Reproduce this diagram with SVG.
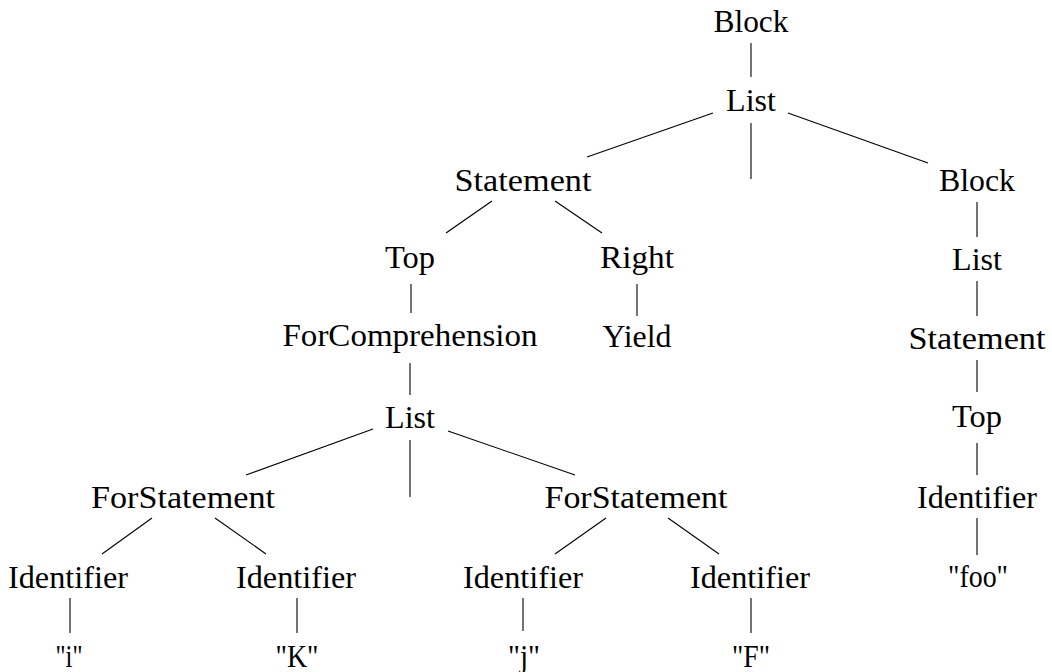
<svg xmlns="http://www.w3.org/2000/svg" width="1052" height="672" viewBox="0 0 1052 672">
  <style>
    .lbl { font-family: "Liberation Serif", "Times New Roman", Tinos, "DejaVu Serif", "Noto Serif", FreeSerif, Times, serif; font-size: 31px; fill: #000; text-anchor: middle; }
    .edge { stroke: #000; stroke-width: 1.1; fill: none; stroke-linecap: butt; }
  </style>
  <rect width="1052" height="672" fill="#fff"/>

  <!-- tree edges -->
  <g id="connectors" class="edge">
    <line x1="751" y1="43" x2="751" y2="77"/>
    <line x1="713" y1="113" x2="587" y2="157"/>
    <line x1="751" y1="123" x2="751" y2="179"/>
    <line x1="788" y1="113" x2="928" y2="163"/>
    <line x1="492" y1="201" x2="446" y2="233"/>
    <line x1="555" y1="201" x2="602" y2="233"/>
    <line x1="411" y1="284" x2="411" y2="313"/>
    <line x1="637" y1="284" x2="637" y2="316"/>
    <line x1="410" y1="363" x2="410" y2="395"/>
    <line x1="373" y1="429" x2="246" y2="475"/>
    <line x1="410" y1="440" x2="410" y2="497"/>
    <line x1="448" y1="431" x2="575" y2="475"/>
    <line x1="152" y1="518" x2="102" y2="554"/>
    <line x1="215" y1="518" x2="266" y2="554"/>
    <line x1="606" y1="518" x2="555" y2="554"/>
    <line x1="668" y1="518" x2="719" y2="554"/>
    <line x1="70" y1="598" x2="70" y2="633"/>
    <line x1="297" y1="598" x2="297" y2="633"/>
    <line x1="523" y1="598" x2="523" y2="631"/>
    <line x1="751" y1="598" x2="751" y2="633"/>
    <line x1="977" y1="202" x2="977" y2="237"/>
    <line x1="977" y1="281" x2="977" y2="316"/>
    <line x1="977" y1="360" x2="977" y2="392"/>
    <line x1="977" y1="443" x2="977" y2="475"/>
    <line x1="977" y1="518" x2="977" y2="555"/>
  </g>

  <!-- nodes -->
  <g font-family="Liberation Serif, DejaVu Serif, serif">
  <g id="n-block-root"><text class="lbl" x="751" y="32" textLength="75" lengthAdjust="spacingAndGlyphs">Block</text></g>
  <g id="n-list-root"><text class="lbl" x="751" y="111" textLength="50" lengthAdjust="spacingAndGlyphs">List</text></g>
  <g id="n-statement"><text class="lbl" x="523" y="191" textLength="137" lengthAdjust="spacingAndGlyphs">Statement</text></g>
  <g id="n-block-inner"><text class="lbl" x="977" y="191" textLength="76" lengthAdjust="spacingAndGlyphs">Block</text></g>
  <g id="n-top"><text class="lbl" x="410" y="268" textLength="50" lengthAdjust="spacingAndGlyphs">Top</text></g>
  <g id="n-right"><text class="lbl" x="637" y="268" textLength="74" lengthAdjust="spacingAndGlyphs">Right</text></g>
  <g id="n-list-inner"><text class="lbl" x="977" y="270" textLength="50" lengthAdjust="spacingAndGlyphs">List</text></g>
  <g id="n-forcomp"><text class="lbl" x="410" y="346" textLength="255" lengthAdjust="spacingAndGlyphs">ForComprehension</text></g>
  <g id="n-yield"><text class="lbl" x="637" y="347" textLength="69" lengthAdjust="spacingAndGlyphs">Yield</text></g>
  <g id="n-statement-inner"><text class="lbl" x="977" y="349" textLength="137" lengthAdjust="spacingAndGlyphs">Statement</text></g>
  <g id="n-list-for"><text class="lbl" x="410" y="428" textLength="50" lengthAdjust="spacingAndGlyphs">List</text></g>
  <g id="n-top-inner"><text class="lbl" x="977" y="427" textLength="50" lengthAdjust="spacingAndGlyphs">Top</text></g>
  <g id="n-forstmt-1"><text class="lbl" x="183" y="508" textLength="184" lengthAdjust="spacingAndGlyphs">ForStatement</text></g>
  <g id="n-forstmt-2"><text class="lbl" x="636" y="508" textLength="183" lengthAdjust="spacingAndGlyphs">ForStatement</text></g>
  <g id="n-ident-inner"><text class="lbl" x="977" y="508" textLength="120" lengthAdjust="spacingAndGlyphs">Identifier</text></g>
  <g id="n-ident-1"><text class="lbl" x="68" y="588" textLength="120" lengthAdjust="spacingAndGlyphs">Identifier</text></g>
  <g id="n-ident-2"><text class="lbl" x="296" y="588" textLength="120" lengthAdjust="spacingAndGlyphs">Identifier</text></g>
  <g id="n-ident-3"><text class="lbl" x="523" y="588" textLength="120" lengthAdjust="spacingAndGlyphs">Identifier</text></g>
  <g id="n-ident-4"><text class="lbl" x="750" y="588" textLength="120" lengthAdjust="spacingAndGlyphs">Identifier</text></g>
  <g id="n-foo"><text class="lbl" x="978" y="587" textLength="60" lengthAdjust="spacingAndGlyphs">"foo"</text></g>
  <g id="n-i"><text class="lbl" x="69" y="667" textLength="27" lengthAdjust="spacingAndGlyphs">"i"</text></g>
  <g id="n-k"><text class="lbl" x="297" y="667" textLength="43" lengthAdjust="spacingAndGlyphs">"K"</text></g>
  <g id="n-j"><text class="lbl" x="524" y="667" textLength="32" lengthAdjust="spacingAndGlyphs">"j"</text></g>
  <g id="n-f"><text class="lbl" x="751" y="667" textLength="38" lengthAdjust="spacingAndGlyphs">"F"</text></g>
  </g>
</svg>
